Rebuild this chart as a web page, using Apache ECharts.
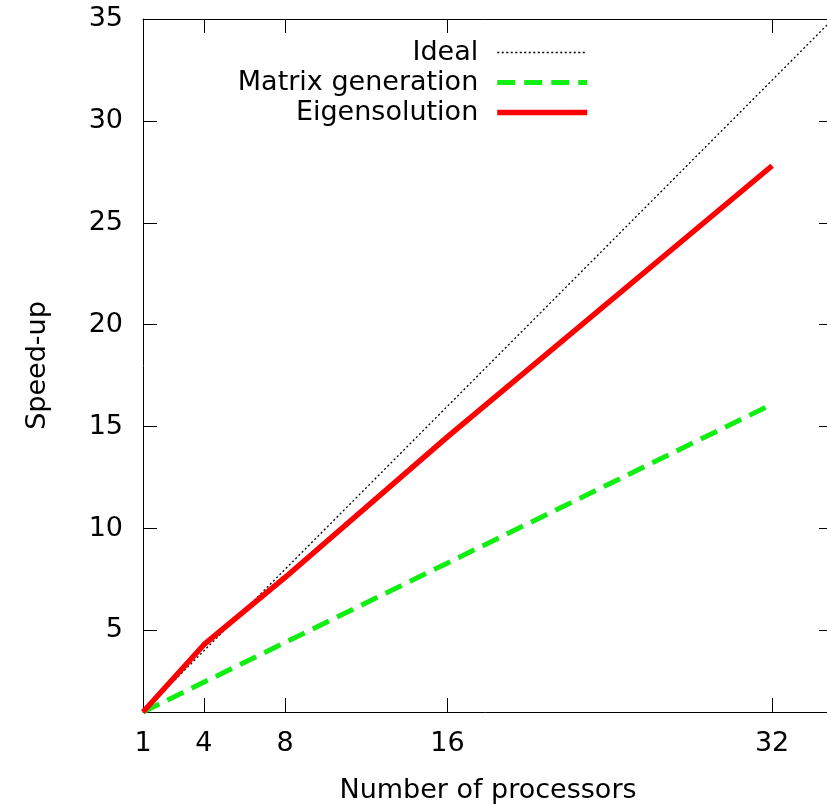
<!DOCTYPE html>
<html>
<head>
<meta charset="utf-8">
<script src="https://cdn.jsdelivr.net/npm/echarts@6/dist/echarts.min.js"></script>
<style>
  html, body { margin: 0; padding: 0; background: #fff; }
  #speedup { width: 827px; height: 805px; }
</style>
</head>
<body>
<div id="speedup"></div>
<script>
// values
const idealX = [1, 35];
const idealY = [1, 35];
const matrixX = [1, 32];
const matrixY = [1, 16.1];
const eigenX = [1, 4, 8, 16, 32];
const eigenY = [1, 4.3, 7.6, 14.5, 27.8];
const xTicks = [1, 4, 8, 16, 32];
const yTicks = [5, 10, 15, 20, 25, 30, 35];

function pairs(xs, ys) {
  let out = [];
  for (let i = 0; i < xs.length; i++) {
    out.push([xs[i], ys[i]]);
  }
  return out;
}

const font = "DejaVu Sans";
const fontSize = 27;

let myChart = echarts.init(document.getElementById("speedup"));

let baseAxis = {
  type: "value",
  min: 1,
  max: 35,
  splitLine: { show: false },
  axisLine: { show: true, onZero: false, lineStyle: { color: "#000", width: 1 } },
  axisTick: { show: true, inside: true, length: 14, lineStyle: { color: "#000" } },
};

myChart.setOption({
  animation: false,
  grid: {  // plot box, right border runs just past the canvas
    left: 143,
    top: 19,
    width: 690,
    height: 693,
    outerBoundsMode: "none",
  },
  xAxis: [
    Object.assign({}, baseAxis, {
      position: "bottom",
      name: "Number of processors",
      nameLocation: "middle",
      nameGap: 65,
      nameTextStyle: { fontFamily: font, fontSize: fontSize, color: "#000" },
      axisTick: Object.assign({}, baseAxis.axisTick, { customValues: xTicks }),
      axisLabel: {
        customValues: xTicks,
        margin: 18,
        fontFamily: font,
        fontSize: fontSize,
        color: "#000",
      },
    }),
    Object.assign({}, baseAxis, {
      position: "top",
      axisTick: Object.assign({}, baseAxis.axisTick, { customValues: xTicks }),
      axisLabel: { show: false },
    }),
  ],
  yAxis: [
    Object.assign({}, baseAxis, {
      position: "left",
      name: "Speed-up",
      nameLocation: "middle",
      nameGap: 92,
      nameRotate: 90,
      nameTextStyle: { fontFamily: font, fontSize: fontSize, color: "#000" },
      axisTick: Object.assign({}, baseAxis.axisTick, { customValues: yTicks }),
      axisLabel: {
        customValues: yTicks,
        margin: 20,
        fontFamily: font,
        fontSize: fontSize,
        color: "#000",
      },
    }),
    Object.assign({}, baseAxis, {
      position: "right",
      axisTick: Object.assign({}, baseAxis.axisTick, { customValues: yTicks }),
      axisLabel: { show: false },
    }),
  ],
  legend: {
    orient: "vertical",
    align: "right",
    right: 232,
    top: 34,
    itemWidth: 90,
    itemHeight: 14,
    itemGap: 3,
    itemStyle: { opacity: 0 },  // hide the round marker, keep the line
    data: [
      { name: "Ideal", lineStyle: { width: 1.3 } },
      { name: "Matrix generation", lineStyle: { width: 5 } },
      { name: "Eigensolution", lineStyle: { width: 5.5 } },
    ],
    textStyle: {
      fontFamily: font,
      fontSize: fontSize,
      lineHeight: 27,
      color: "#000",
      padding: [0, 14, 0, 0],
    },
  },
  series: [
    {
      name: "Ideal",
      type: "line",
      data: pairs(idealX, idealY),
      symbol: "none",
      lineStyle: { color: "#000", width: 1.3, type: [2, 2.5] },
      itemStyle: { color: "#000" },
    },
    {
      name: "Matrix generation",
      type: "line",
      data: pairs(matrixX, matrixY),
      symbol: "none",
      lineStyle: { color: "#11ee11", width: 5, type: [18, 9] },
      itemStyle: { color: "#11ee11" },
    },
    {
      name: "Eigensolution",
      type: "line",
      data: pairs(eigenX, eigenY),
      symbol: "none",
      lineStyle: { color: "#ff0000", width: 5.5 },
      itemStyle: { color: "#ff0000" },
    },
  ],
});
</script>
</body>
</html>
